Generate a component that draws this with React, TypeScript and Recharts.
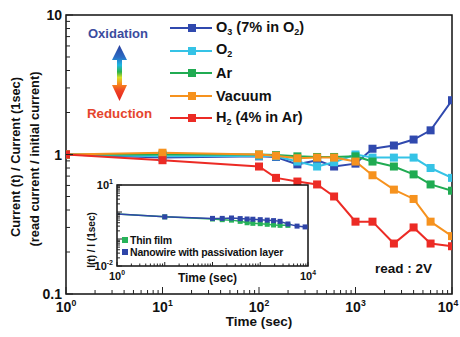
import { LineChart, Line, XAxis, YAxis, ReferenceArea, Legend, Label } from "recharts"

// main chart: normalized current vs time, five ambients
const times = [1, 10, 100, 150, 250, 400, 600, 1000, 1500, 2500, 4000, 6000, 10000]
const o3 = [1, 0.95, 0.97, 0.96, 0.85, 0.91, 0.82, 0.86, 1.1, 1.16, 1.28, 1.49, 2.45]
const o2 = [1, 0.97, 0.98, 0.97, 0.89, 0.82, 0.88, 1.0, 0.95, 0.95, 0.95, 0.8, 0.68]
const ar = [1, 1.0, 1.0, 0.99, 0.97, 0.96, 0.96, 0.97, 0.89, 0.82, 0.72, 0.61, 0.55]
const vacuum = [1, 1.03, 1.0, 0.98, 0.94, 0.95, 0.95, 0.89, 0.71, 0.56, 0.48, 0.33, 0.26]
const h2 = [1, 0.91, 0.82, 0.68, 0.64, 0.61, 0.5, 0.33, 0.33, 0.23, 0.3, 0.23, 0.22]

// inset: thin film vs nanowire with passivation
const insetTimes = [1, 10, 100, 160, 250, 380, 530, 700, 1000, 1400, 1900, 2600, 3800, 5900, 8700]
const nanowire = [0.85, 0.66, 0.58, 0.58, 0.6, 0.57, 0.55, 0.54, 0.52, 0.5, 0.48, 0.45, 0.36, 0.3, 0.28]
const thinFilm = [0.85, 0.66, 0.55, 0.52, 0.5, 0.45, 0.4, 0.38, 0.37, 0.35, 0.33, 0.32, 0.32, null, null]

const mainXLabels = [1, 10, 100, 1000, 10000]
const mainYLabels = [0.1, 1, 10]
const insetXLabels = [1, 10000]
const insetYLabels = [0.01, 10]

const FONT = "'Liberation Sans', Arial, sans-serif"
const SUB = { fontSize: 9, verticalAlign: "-3px" }

const series = [
  { key: "o3", values: o3, color: "#3049ae", label: <>O<sub style={SUB}>3</sub> (7% in O<sub style={SUB}>2</sub>)</> },
  { key: "o2", values: o2, color: "#35c3e6", label: <>O<sub style={SUB}>2</sub></> },
  { key: "ar", values: ar, color: "#20ab52", label: <>Ar</> },
  { key: "vacuum", values: vacuum, color: "#f6921e", label: <>Vacuum</> },
  { key: "h2", values: h2, color: "#ec2b25", label: <>H<sub style={SUB}>2</sub> (4% in Ar)</> },
]

const insetSeries = [
  { key: "thin", values: thinFilm, color: "#27b35a", label: "Thin film" },
  { key: "nano", values: nanowire, color: "#2f45a8", label: "Nanowire with passivation layer" },
]

const mainData = times.map((t, i) => {
  const row: Record<string, number> = { t }
  series.forEach((s) => (row[s.key] = s.values[i]))
  return row
})

const insetData = insetTimes.map((t, i) => {
  const row: Record<string, number | null> = { t }
  insetSeries.forEach((s) => (row[s.key] = s.values[i]))
  return row
})

function logTicks(from: number, to: number) {
  const out: number[] = []
  for (let e = from; e < to; e++) {
    for (let m = 1; m < 10; m++) out.push(+(m * Math.pow(10, e)).toPrecision(3))
  }
  out.push(Math.pow(10, to))
  return out
}

const isIn = (v: number, list: number[]) => list.some((l) => Math.abs(l - v) / l < 1e-6)
const isDecade = (v: number) => Math.abs(Math.log10(v) - Math.round(Math.log10(v))) < 1e-6

function squareDot(color: string, size: number, skipFirst = false) {
  return (props: any) => {
    const { cx, cy, index, value } = props
    if (cx == null || cy == null || value == null || (skipFirst && index === 0)) return <g key={index} />
    return <rect key={index} x={cx - size / 2} y={cy - size / 2} width={size} height={size} fill={color} />
  }
}

// lastShift nudges the right-most label so it stays inside the picture
function makeXTick(labels: number[], fs: number, major: number, minor: number, dy: number, lastShift = 0) {
  return (props: any) => {
    const { x, y, payload } = props
    const v = payload.value
    const last = Math.abs(v - labels[labels.length - 1]) < 1e-6
    return (
      <g>
        <line x1={x} x2={x} y1={y} y2={y - (isDecade(v) ? major : minor)} stroke="#222" strokeWidth={1} />
        {isIn(v, labels) && (
          <text x={x + (last ? lastShift : 0)} y={y + dy} textAnchor="middle" fontFamily={FONT} fontWeight="bold" fontSize={fs} fill="#111">
            10
            <tspan fontSize={fs * 0.62} dy={-fs * 0.45}>
              {Math.round(Math.log10(v))}
            </tspan>
          </text>
        )}
      </g>
    )
  }
}

function MainYTick(props: any) {
  const { x, y, payload } = props
  const v = payload.value
  return (
    <g>
      <line x1={x} x2={x + (isDecade(v) ? 7 : 4)} y1={y} y2={y} stroke="#222" strokeWidth={1} />
      {isIn(v, mainYLabels) && (
        <text x={x - 4} y={y + 5} textAnchor="end" fontFamily={FONT} fontWeight="bold" fontSize={14} fill="#111">
          {v}
        </text>
      )}
    </g>
  )
}

function InsetYTick(props: any) {
  const { x, y, payload } = props
  const v = payload.value
  return (
    <g>
      <line x1={x} x2={x + (isDecade(v) ? 5 : 3)} y1={y} y2={y} stroke="#222" strokeWidth={1} />
      {isIn(v, insetYLabels) && (
        <text x={x - 4} y={y + 4} textAnchor="end" fontFamily={FONT} fontWeight="bold" fontSize={11} fill="#111">
          10
          <tspan fontSize={7} dy={-5}>
            {Math.round(Math.log10(v))}
          </tspan>
        </text>
      )}
    </g>
  )
}

function MainLegend() {
  return (
    <div style={{ fontFamily: FONT, fontWeight: "bold", fontSize: 14.5, color: "#111" }}>
      {series.map((s) => (
        <div key={s.key} style={{ height: 22.5, display: "flex", alignItems: "center", whiteSpace: "nowrap" }}>
          <svg width={44} height={12} style={{ marginRight: 3 }}>
            <line x1={1} x2={43} y1={6} y2={6} stroke={s.color} strokeWidth={2} />
            <rect x={19} y={2} width={8} height={8} fill={s.color} />
          </svg>
          <span style={{ lineHeight: 1 }}>{s.label}</span>
        </div>
      ))}
    </div>
  )
}

function InsetLegend() {
  return (
    <div style={{ fontFamily: FONT, fontWeight: "bold", fontSize: 10.5, color: "#111", letterSpacing: -0.2 }}>
      {insetSeries.map((s) => (
        <div key={s.key} style={{ height: 12, display: "flex", alignItems: "center", whiteSpace: "nowrap" }}>
          <span style={{ width: 6, height: 6, background: s.color, marginRight: 2, display: "inline-block" }} />
          <span>{s.label}</span>
        </div>
      ))}
    </div>
  )
}

function YTitle() {
  return (
    <g fontFamily={FONT} fontWeight="bold" fontSize={12.8} fill="#111">
      <text transform="translate(20,157) rotate(-90)" textAnchor="middle">
        Current (t) / Current (1sec)
      </text>
      <text transform="translate(39,159) rotate(-90)" textAnchor="middle">
        (read current / initial current)
      </text>
    </g>
  )
}

function InsetYTitle() {
  return (
    <text transform="translate(18,65) rotate(-90)" textAnchor="middle" fontFamily={FONT} fontWeight="bold" fontSize={10} fill="#111">
      I(t) / I (1sec)
    </text>
  )
}

export default function App() {
  const mainXTicks = logTicks(0, 4)
  const mainYTicks = logTicks(-1, 1)
  const insetXTicks = logTicks(0, 4)
  const insetYTicks = logTicks(-2, 1)

  return (
    <div style={{ position: "absolute", left: 0, top: 0, width: 460, height: 337, background: "#fff" }}>
      <LineChart width={460} height={337} data={mainData} margin={{ top: 15, right: 8, bottom: 42, left: 65 }}>
        <XAxis
          dataKey="t"
          type="number"
          scale="log"
          domain={[1, 10000]}
          allowDataOverflow
          ticks={mainXTicks}
          interval={0}
          height={1}
          tickSize={0}
          tickMargin={0}
          axisLine={false}
          tickLine={false}
          tick={makeXTick(mainXLabels, 14, 7, 4, 18, -4)}
        >
          <Label value="Time (sec)" position="bottom" offset={21} fontFamily={FONT} fontWeight="bold" fontSize={13.5} fill="#111" />
        </XAxis>
        <YAxis
          type="number"
          scale="log"
          domain={[0.1, 10]}
          allowDataOverflow
          ticks={mainYTicks}
          interval={0}
          width={1}
          tickSize={0}
          tickMargin={0}
          axisLine={false}
          tickLine={false}
          tick={MainYTick}
        >
          <Label content={YTitle} />
        </YAxis>
        <Legend
          layout="vertical"
          align="center"
          verticalAlign="middle"
          wrapperStyle={{ left: 169, top: 17, width: 180 }}
          content={MainLegend}
        />
        {series.map((s) => (
          <Line
            key={s.key}
            dataKey={s.key}
            stroke={s.color}
            strokeWidth={2}
            dot={squareDot(s.color, 8)}
            activeDot={false}
            isAnimationActive={false}
          />
        ))}
        <ReferenceArea x1={1} x2={10000} y1={0.1} y2={10} fill="none" stroke="#111" strokeWidth={1.5} />
      </LineChart>

      <svg width={460} height={337} style={{ position: "absolute", left: 0, top: 0, pointerEvents: "none" }}>
        <defs>
          <linearGradient id="redox" x1="0" y1="0" x2="0" y2="1">
            <stop offset="0" stopColor="#2a3f9e" />
            <stop offset="0.22" stopColor="#2b6cc4" />
            <stop offset="0.36" stopColor="#1db7e2" />
            <stop offset="0.48" stopColor="#2bb34a" />
            <stop offset="0.58" stopColor="#d5df26" />
            <stop offset="0.68" stopColor="#f7941d" />
            <stop offset="0.82" stopColor="#ef4123" />
            <stop offset="1" stopColor="#e3231f" />
          </linearGradient>
        </defs>
        <path
          d="M119.5,45 L127,60 L122,60 L122,85 L127,85 L119.5,101 L112,85 L117,85 L117,60 L112,60 Z"
          fill="url(#redox)"
        />
        <g fontFamily={FONT} fontWeight="bold">
          <text x={88} y={38} fontSize={13} fill="#3b4c9e">Oxidation</text>
          <text x={87} y={118} fontSize={13.3} fill="#e5452d">Reduction</text>
          <text x={375} y={273} fontSize={13.5} fill="#111">read : 2V</text>
        </g>
      </svg>

      <div style={{ position: "absolute", left: 117, top: 185, width: 191, height: 81, background: "#fff" }} />
      <div style={{ position: "absolute", left: 77, top: 175 }}>
        <LineChart width={240} height={116} data={insetData} margin={{ top: 10, right: 9, bottom: 24, left: 39 }}>
          <XAxis
            dataKey="t"
            type="number"
            scale="log"
            domain={[1, 10000]}
            allowDataOverflow
            ticks={insetXTicks}
            interval={0}
            height={1}
            tickSize={0}
            tickMargin={0}
            axisLine={false}
            tickLine={false}
            tick={makeXTick(insetXLabels, 11, 4, 2.5, 14)}
          >
            <Label value="Time (sec)" position="bottom" offset={6} fontFamily={FONT} fontWeight="bold" fontSize={12} fill="#111" dx={-5} />
          </XAxis>
          <YAxis
            type="number"
            scale="log"
            domain={[0.01, 10]}
            allowDataOverflow
            ticks={insetYTicks}
            interval={0}
            width={1}
            tickSize={0}
            tickMargin={0}
            axisLine={false}
            tickLine={false}
            tick={InsetYTick}
          >
            <Label content={InsetYTitle} />
          </YAxis>
          <Legend
            layout="vertical"
            align="center"
            verticalAlign="middle"
            wrapperStyle={{ left: 45, top: 59, width: 190 }}
            content={InsetLegend}
          />
          {insetSeries.map((s) => (
            <Line
              key={s.key}
              dataKey={s.key}
              stroke={s.color}
              strokeWidth={1.5}
              dot={squareDot(s.color, 5, true)}
              activeDot={false}
              isAnimationActive={false}
            />
          ))}
          <ReferenceArea x1={1} x2={10000} y1={0.01} y2={10} fill="none" stroke="#111" strokeWidth={1.5} />
        </LineChart>
      </div>
    </div>
  )
}
